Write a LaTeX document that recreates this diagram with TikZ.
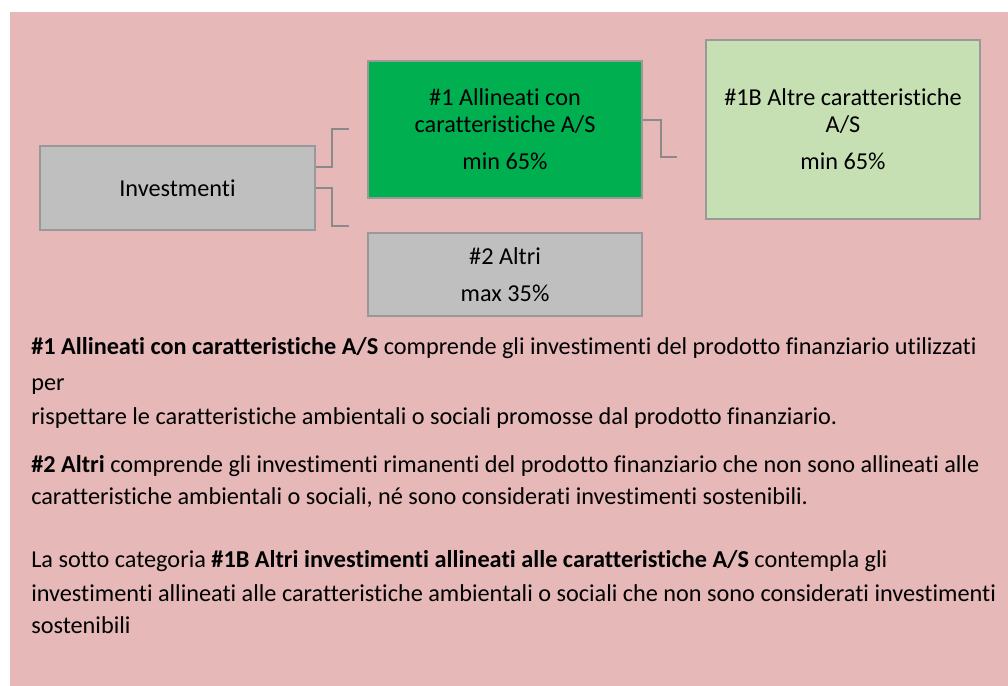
\documentclass[tikz,border=0pt]{standalone}
\usepackage{fontspec}
\setmainfont{Carlito}[Ligatures=NoCommon]
\definecolor{pinkbg}{HTML}{E6B8B7}
\definecolor{darkgreen}{HTML}{00B050}
\definecolor{palegreen}{HTML}{C6E0B4}
\definecolor{boxgray}{HTML}{BFBFBF}
\definecolor{linegray}{HTML}{999999}
\newcommand{\boxfont}{\fontsize{18.2pt}{20.25pt}\selectfont}
\newcommand{\notefont}{\fontsize{18.2pt}{20.25pt}\selectfont}
\tikzstyle{catbox}=[rectangle, draw=linegray, line width=1.5pt, inner sep=0, align=center, font=\boxfont, minimum width=205.5pt]
\tikzstyle{conn}=[draw=linegray!90!black, line width=1.5pt]
\tikzstyle{note}=[anchor=base west, inner sep=0, font=\notefont]

\begin{document}
\begin{tikzpicture}[x=0.75pt,y=-0.75pt]
\useasboundingbox (0,0) rectangle (1008,686);
\fill[pinkbg] (10,12) rectangle (1008,686);

\node[catbox, fill=boxgray, minimum width=206.25pt, minimum height=63pt] (inv) at (177.5,188) {Investmenti};
\node[catbox, fill=darkgreen, minimum height=102.75pt] (al) at (505,129.5) {\#1 Allineati con\\caratteristiche A/S\\[7.5pt]min 65\%};
\node[catbox, fill=palegreen, minimum height=134.25pt] (alb) at (843,129.5) {\#1B Altre caratteristiche\\A/S\\[7.5pt]min 65\%};
\node[catbox, fill=boxgray, minimum height=62.25pt] (oth) at (505,274.75) {\#2 Altri\\[7.5pt]max 35\%};

\coordinate (up) at (349,129);
\coordinate (lo) at (349,226);
\coordinate (sub) at (677,157);
\draw[conn] ([yshift=15.75pt]inv.east) -- ++(16,0) |- (up);
\draw[conn] (inv.east) -- ++(16,0) |- (lo);
\draw[conn] ([yshift=7pt]al.east) -- ++(18,0) |- (sub);

\node[note] (t1) at (31,354) {\textbf{\#1 Allineati con caratteristiche A/S} comprende gli investimenti del prodotto finanziario utilizzati};
\node[note] (t2) at (31,390) {per};
\node[note] (t3) at (31,424) {rispettare le caratteristiche ambientali o sociali promosse dal prodotto finanziario.};
\node[note] (t4) at (31,472) {\textbf{\#2 Altri} comprende gli investimenti rimanenti del prodotto finanziario che non sono allineati alle};
\node[note] (t5) at (31,504) {caratteristiche ambientali o sociali, né sono considerati investimenti sostenibili.};
\node[note] (t6) at (31,567) {La sotto categoria \textbf{\#1B Altri investimenti allineati alle caratteristiche A/S} contempla gli};
\node[note] (t7) at (31,601) {investimenti allineati alle caratteristiche ambientali o sociali che non sono considerati investimenti};
\node[note] (t8) at (31,633) {sostenibili};
\end{tikzpicture}
\end{document}
